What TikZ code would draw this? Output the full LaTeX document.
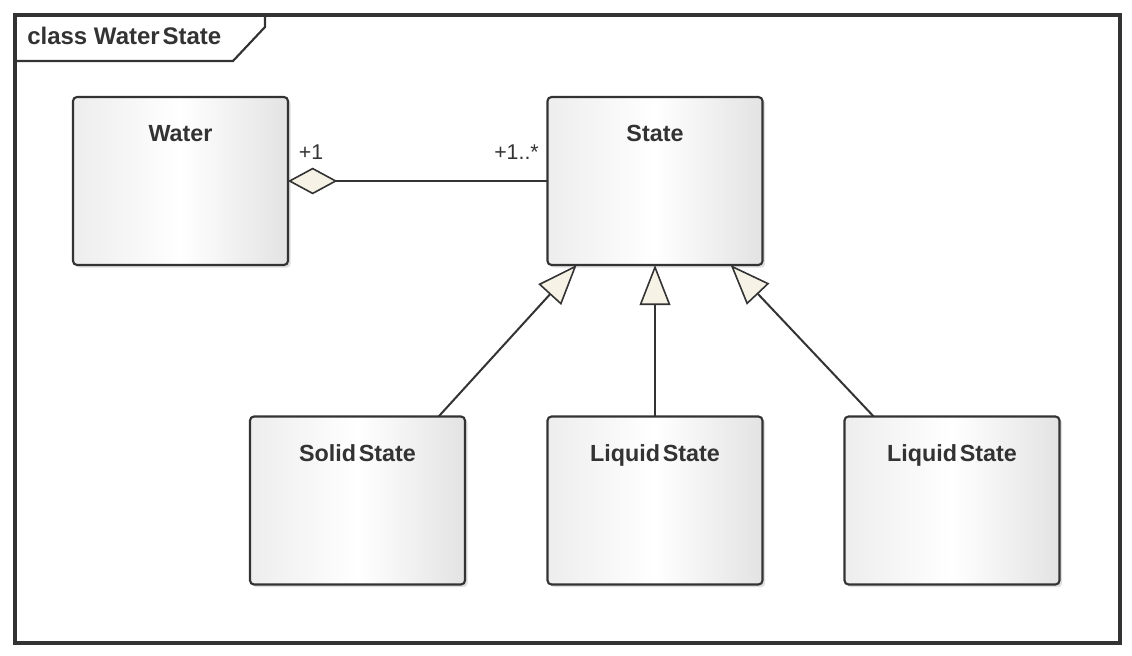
\documentclass[tikz,border=0pt]{standalone}
\usepackage{fontspec}
\setmainfont{Liberation Sans}
\usetikzlibrary{arrows.meta,shadows,calc}
\definecolor{ink}{HTML}{333333}
\definecolor{cream}{HTML}{F6F2E6}
\tikzset{
  classbox/.style={draw=ink, line width=1.6pt, rounded corners=3pt,
    minimum width=161.25pt, minimum height=126pt, inner sep=0pt, outer sep=0pt,
    left color=gray!14, right color=gray!22, middle color=white,
    drop shadow={shadow xshift=2pt, shadow yshift=-2pt, opacity=0.25, fill=gray}},
  classname/.style={font=\fontsize{17.5}{20}\selectfont\bfseries, text=ink, inner sep=0pt, anchor=base},
  mult/.style={font=\fontsize{16}{18}\selectfont, text=ink, inner sep=0pt, anchor=base},
  conn/.style={draw=ink, line width=1.5pt},
  gen/.style={conn, -{Triangle[open, fill=cream, length=30pt, width=23pt, line width=1.2pt]}},
  agg/.style={conn, {Diamond[open, fill=cream, length=37pt, width=20pt, line width=1.2pt]}-},
}
\begin{document}
\begin{tikzpicture}[x=0.75pt, y=-0.75pt]
  \useasboundingbox (0,0) rectangle (1132,656);
  % frame
  \draw[draw=ink, line width=2.6pt] (15,15) rectangle (1120,643);
  \draw[draw=ink, line width=1.6pt] (15,61) -- (233,61) -- (265,27) -- (265,15);
  \node[font=\fontsize{18}{20}\selectfont\bfseries, text=ink, anchor=base west, inner sep=0pt] (title) at (27,45) {class Water\hspace{0.12em}State};
  % classes
  \node[classbox] (water) at (180.5,181) {};
  \node[classbox] (state) at (655,181) {};
  \node[classbox] (solid) at (357.5,500.5) {};
  \node[classbox] (liq1) at (655,500.5) {};
  \node[classbox] (liq2) at (952,500.5) {};
  \node[classname] (waterT) at (180.5,142) {Water};
  \node[classname] (stateT) at (655,142) {State};
  \node[classname] (solidT) at (357.5,461) {Solid\hspace{0.12em}State};
  \node[classname] (liq1T) at (655,461) {Liquid\hspace{0.12em}State};
  \node[classname] (liq2T) at (952,461) {Liquid\hspace{0.12em}State};
  % aggregation
  \draw[agg] (water.east) -- (state.west);
  \node[mult] (m1) at (311,160) {+1};
  \node[mult, anchor=base east] (m2) at (539,160) {+1..*};
  % generalizations
  \draw[gen] (solid.46) -- (state.227);
  \draw[gen] (liq1.north) -- (state.south);
  \draw[gen] (liq2.133.4) -- (state.312.9);
\end{tikzpicture}
\end{document}
